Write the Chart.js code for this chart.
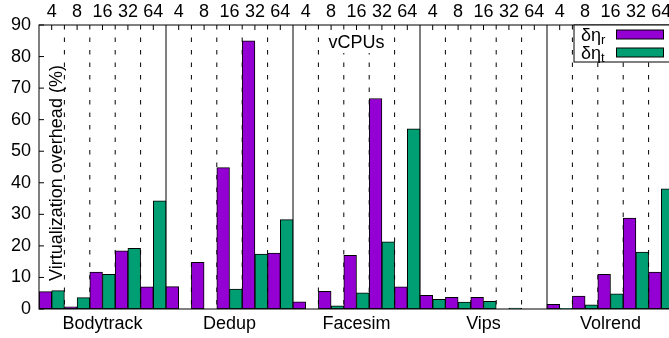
<!DOCTYPE html>
<html>
<head>
<meta charset="utf-8">
<script src="https://cdn.jsdelivr.net/npm/chart.js@4.4.1/dist/chart.umd.min.js"></script>
<style>
    html, body { margin: 0; padding: 0; background: #fff; overflow: hidden; }
    canvas { display: block; }
</style>
</head>
<body>
<canvas id="overheadChart" width="675" height="338"></canvas>
<script>
// Benchmarks and vCPU counts (each benchmark is run with every vCPU count)
const benchmarks = ['Bodytrack', 'Dedup', 'Facesim', 'Vips', 'Volrend'];
const vcpus = ['4', '8', '16', '32', '64'];

// Overhead (%) per benchmark, in vCPU order 4, 8, 16, 32, 64
const deltaEtaR = [
    5.5, 0.7, 11.7, 18.4, 7.0,     // Bodytrack
    7.1, 14.8, 44.8, 85.0, 17.7,   // Dedup
    2.3, 5.6, 17.0, 66.7, 7.0,     // Facesim
    4.3, 3.7, 3.7, 0, 0,           // Vips
    1.5, 4.1, 11.0, 28.8, 11.7     // Volrend
];
const deltaEtaT = [
    5.8, 3.6, 11.0, 19.2, 34.3,
    0, 0, 6.3, 17.4, 28.3,
    0, 1.0, 5.1, 21.3, 57.1,
    3.1, 2.2, 2.4, 0.3, 0,
    0.2, 1.3, 4.8, 18.0, 38.1
];

const seriesLabels = ['δη_r', 'δη_t'];
const seriesColors = ['#9400d3', '#009e73'];
const yMin = 0, yMax = 90, yStep = 10;

const FONT = '"Liberation Sans", Arial, Helvetica, sans-serif';
Chart.defaults.font.family = FONT;
Chart.defaults.font.size = 18;
Chart.defaults.color = '#000';

const slotLabels = benchmarks.flatMap(() => vcpus);

// text with an optional "_x" subscript part
function drawSubText(ctx, text, x, y) {
    const [main, sub] = text.split('_');
    ctx.font = '18px ' + FONT;
    ctx.fillText(main, x, y);
    if (sub) {
        const w = ctx.measureText(main).width;
        ctx.font = '13px ' + FONT;
        ctx.fillText(sub, x + w, y + 3);
    }
}

const framePlugin = {
    id: 'frame',
    beforeDatasetsDraw(chart) {
        const { ctx, chartArea: a, scales } = chart;
        const xs = scales.x;
        ctx.save();
        ctx.strokeStyle = '#000';
        ctx.lineWidth = 1;
        // separators between vCPU slots; solid between benchmarks
        for (let i = 1; i < slotLabels.length; i++) {
            const x = (xs.getPixelForTick(i - 1) + xs.getPixelForTick(i)) / 2;
            ctx.setLineDash(i % vcpus.length === 0 ? [] : [4.5, 8]);
            ctx.beginPath();
            ctx.moveTo(x, a.top);
            ctx.lineTo(x, a.bottom);
            ctx.stroke();
        }
        ctx.restore();
    },
    afterDatasetsDraw(chart) {
        const { ctx, chartArea: a, scales } = chart;
        ctx.save();
        ctx.strokeStyle = '#000';
        ctx.lineWidth = 1;
        ctx.setLineDash([]);

        // inward ticks: vCPU slots on top, values on the left
        ctx.beginPath();
        for (let i = 0; i < slotLabels.length; i++) {
            const x = scales.x.getPixelForTick(i);
            ctx.moveTo(x, a.top);
            ctx.lineTo(x, a.top + 5);
        }
        scales.y.ticks.forEach((t, i) => {
            const y = scales.y.getPixelForTick(i);
            ctx.moveTo(a.left, y);
            ctx.lineTo(a.left + 5, y);
        });
        ctx.stroke();

        ctx.strokeRect(a.left, a.top, a.right - a.left, a.bottom - a.top);

        // axis titles drawn inside the plot
        ctx.fillStyle = '#000';
        ctx.font = '18px ' + FONT;
        ctx.textAlign = 'center';
        ctx.textBaseline = 'alphabetic';
        ctx.save();
        ctx.translate(a.left + 23, (a.top + a.bottom) / 2 + 6);
        ctx.rotate(-Math.PI / 2);
        ctx.fillText('Virtualization overhead (%)', 0, 0);
        ctx.restore();

        const cx = (a.left + a.right) / 2;
        const tw = ctx.measureText('vCPUs').width;
        ctx.fillStyle = '#fff';
        ctx.fillRect(cx - tw / 2 - 3, a.top + 8, tw + 6, 20);
        ctx.fillStyle = '#000';
        ctx.fillText('vCPUs', cx, a.top + 23);

        // legend box in the top right corner
        const bx = a.right - 100, by = a.top, bh = 37;
        ctx.fillStyle = '#fff';
        ctx.fillRect(bx, by, a.right - bx, bh);
        ctx.strokeRect(bx, by, a.right - bx, bh);
        ctx.textAlign = 'left';
        chart.data.datasets.forEach((ds, i) => {
            const rowY = by + 9.5 + i * 18;
            ctx.fillStyle = '#000';
            drawSubText(ctx, ds.label, bx + 7, rowY + 6);
            ctx.fillStyle = ds.backgroundColor;
            ctx.fillRect(bx + 42.5, rowY - 4.5, 47, 9);
            ctx.strokeRect(bx + 42.5, rowY - 4.5, 47, 9);
        });
        ctx.restore();
    }
};

new Chart(document.getElementById('overheadChart'), {
    type: 'bar',
    data: {
        labels: slotLabels,
        datasets: [
            { label: seriesLabels[0], data: deltaEtaR, backgroundColor: seriesColors[0] },
            { label: seriesLabels[1], data: deltaEtaT, backgroundColor: seriesColors[1] }
        ]
    },
    options: {
        responsive: false,
        animation: false,
        layout: { padding: { left: 0, right: 1, top: 0, bottom: 0 } },
        datasets: {
            bar: {
                categoryPercentage: 1,
                barPercentage: 1,
                borderColor: '#000',
                borderWidth: 1,
                borderSkipped: false
            }
        },
        plugins: {
            legend: { display: false },
            tooltip: { enabled: false }
        },
        scales: {
            x: {
                position: 'top',
                offset: true,
                grid: { display: false, drawTicks: false },
                border: { display: false },
                ticks: { padding: 2, maxRotation: 0, autoSkip: false },
                afterFit: s => { s.height = 25; }
            },
            x2: {
                type: 'category',
                labels: benchmarks,
                position: 'bottom',
                offset: true,
                grid: { display: false, drawTicks: false },
                border: { display: false },
                ticks: { padding: 4, maxRotation: 0, autoSkip: false },
                afterFit: s => { s.height = 29; }
            },
            y: {
                min: yMin,
                max: yMax,
                grid: { display: false, drawTicks: false },
                border: { display: false },
                ticks: { stepSize: yStep, padding: 8 },
                afterFit: s => { s.width = 39; }
            }
        }
    },
    plugins: [framePlugin]
});
</script>
</body>
</html>
